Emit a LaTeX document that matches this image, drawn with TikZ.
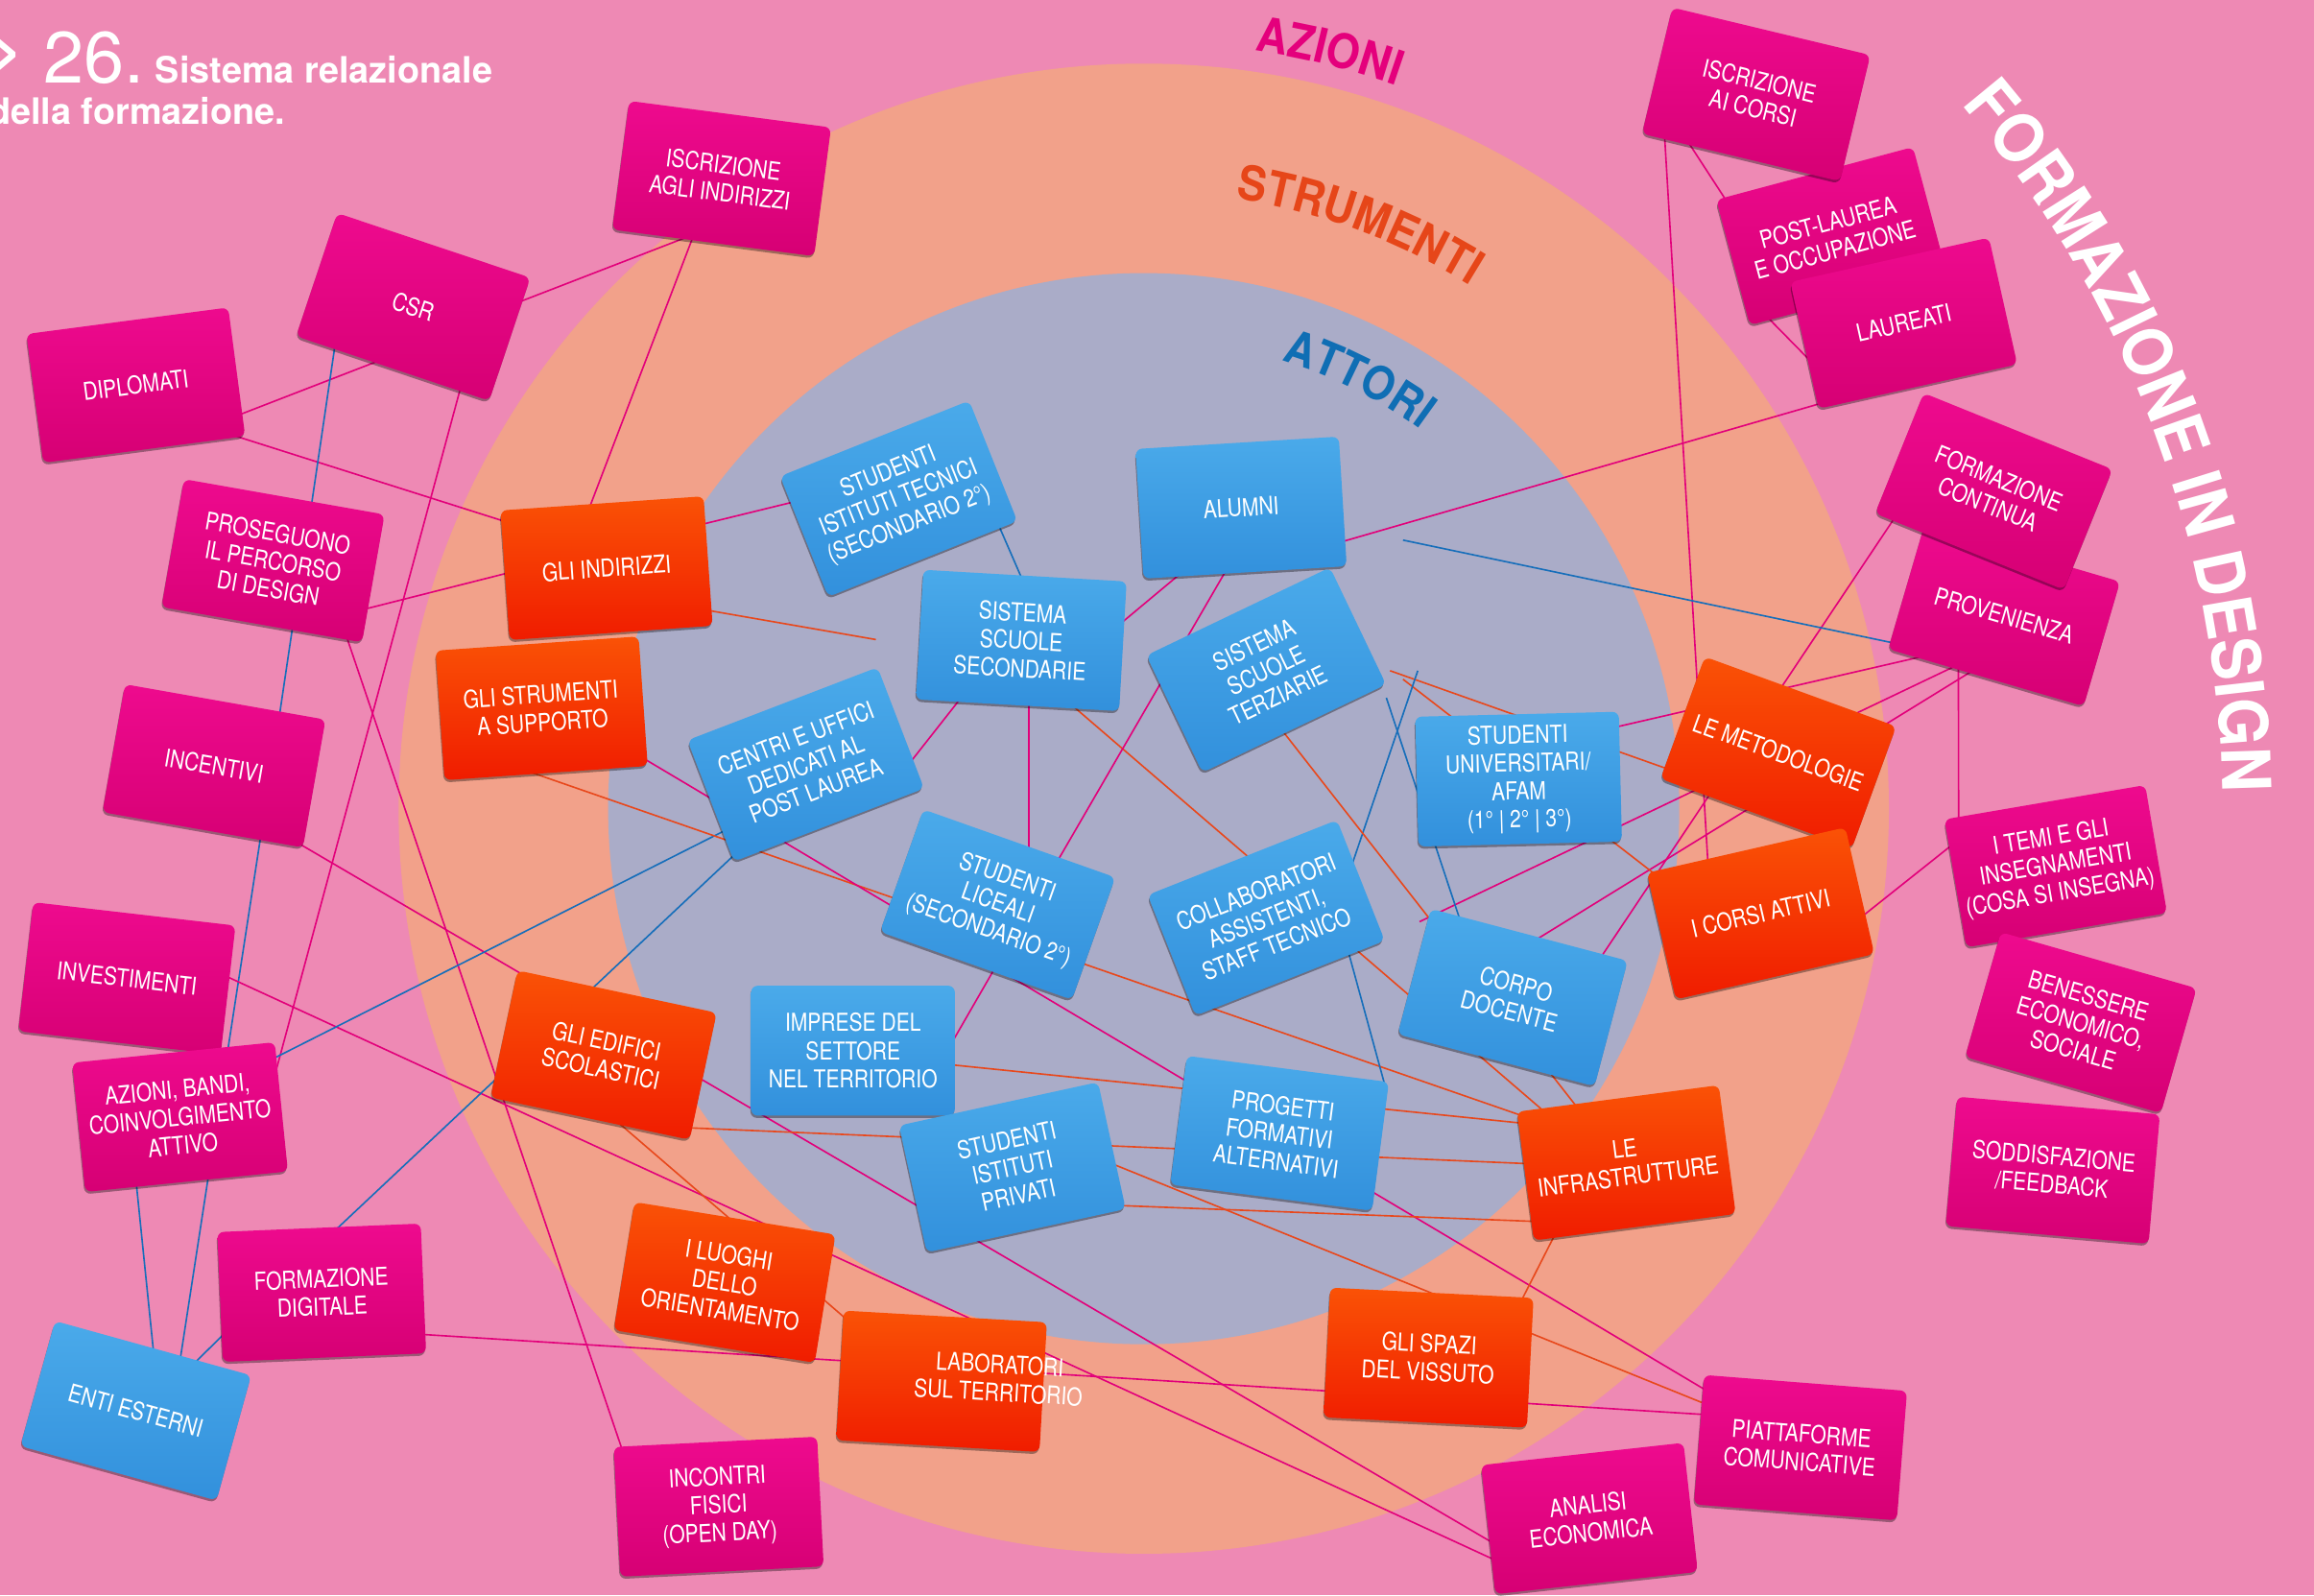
\documentclass[tikz,border=0pt]{standalone}
\usepackage{fontspec}
\setmainfont{TeX Gyre Heros}
\newfontfamily\boxfont[FakeStretch=0.82]{TeX Gyre Heros}
\newfontfamily\labfont[FakeStretch=0.9]{TeX Gyre Heros}
\newfontfamily\bigfont[FakeStretch=0.92]{TeX Gyre Heros}
\newfontfamily\ttlfont{TeX Gyre Heros}
\usetikzlibrary{calc,shadows,decorations.text}
\pgfdeclarelayer{bgl}\pgfdeclarelayer{lnl}\pgfsetlayers{bgl,lnl,main}
\definecolor{bgp}{RGB}{238,137,180}
\definecolor{ring}{RGB}{242,161,138}
\definecolor{lav}{RGB}{170,172,200}
\definecolor{magA}{RGB}{238,10,142}
\definecolor{magB}{RGB}{214,0,116}
\definecolor{orA}{RGB}{250,82,6}
\definecolor{orB}{RGB}{240,28,0}
\definecolor{blA}{RGB}{74,170,234}
\definecolor{blB}{RGB}{50,144,220}
\definecolor{lmag}{RGB}{226,0,122}
\definecolor{lor}{RGB}{232,72,28}
\definecolor{lblu}{RGB}{22,110,186}
\definecolor{tazi}{RGB}{228,0,124}
\definecolor{tstr}{RGB}{230,70,25}
\definecolor{tatt}{RGB}{15,110,180}
\tikzset{
 box/.style={rectangle, rounded corners=2.5pt, minimum width=2.76cm, minimum height=1.76cm, inner sep=1pt, align=center, text=white, font=\boxfont\fontsize{9.5}{10.8}\selectfont, drop shadow={shadow xshift=-0.3pt, shadow yshift=-0.9pt, opacity=0.35, fill=black}},
 mbox/.style={box, top color=magA, bottom color=magB},
 obox/.style={box, top color=orA, bottom color=orB},
 bbox/.style={box, top color=blA, bottom color=blB},
 lm/.style={draw=lmag, line width=0.6pt},
 lo/.style={draw=lor, line width=0.6pt},
 lb/.style={draw=lblu, line width=0.6pt},
 ttl/.style={anchor=base west, text=white, inner sep=0pt}
}
\newcommand\lnk[5]{\draw[#1] ($(#2)+(#3)$) -- ($(#4)+(#5)$);}
\begin{document}
\begin{tikzpicture}[x=0.02cm,y=-0.02cm]
\useasboundingbox (0,0) rectangle (1568,1081);
\begin{pgfonlayer}{bgl}
\clip (0,0) rectangle (1568,1081);
\fill[bgp] (0,0) rectangle (1568,1081);
\fill[ring] (775,548) circle[radius=10.1cm];
\fill[lav] (775,548) circle[radius=7.26cm];
\path[decorate,decoration={text along path,text align=center,text={|\labfont\bfseries\fontsize{18.5}{18.5}\selectfont\color{tazi}|AZIONI}}] plot[domain=-91.2:-61.2,samples=60] ({775+519*cos(\x)},{548+519*sin(\x)});
\path[decorate,decoration={text along path,text align=center,text={|\labfont\bfseries\fontsize{18.5}{18.5}\selectfont\color{tstr}|STRUMENTI}}] plot[domain=-94.7:-44.7,samples=60] ({775+418*cos(\x)},{548+418*sin(\x)});
\path[decorate,decoration={text along path,text align=center,text={|\labfont\bfseries\fontsize{18}{18}\selectfont\color{tatt}|ATTORI}}] plot[domain=-93.4:-33.4,samples=60] ({775+318*cos(\x)},{548+318*sin(\x)});
\path[decorate,decoration={text along path,text align=center,text={|\bigfont\bfseries\fontsize{26}{26}\selectfont\color{white}|FORMAZIONE IN DESIGN}}] plot[domain=-54.8:13.2,samples=120] ({775+731*cos(\x)},{548+731*sin(\x)});
\node[anchor=east, text=white, inner sep=0pt, font=\ttlfont\bfseries\fontsize{24}{24}\selectfont] (arr) at (16,37) {>};
\node[ttl, font=\ttlfont\fontsize{28}{28}\selectfont] (n26) at (29,56) {26.};
\node[ttl, font=\ttlfont\bfseries\fontsize{14}{14}\selectfont] (tt1) at (105,56) {Sistema relazionale};
\node[ttl, font=\ttlfont\bfseries\fontsize{14}{14}\selectfont] (tt2) at (-8,84) {della formazione.};
\end{pgfonlayer}

% AZIONI - left
\node[mbox, rotate=7.5] (dipl) at (92,261) {DIPLOMATI};
\node[mbox, rotate=-18.5] (csr) at (280,208) {CSR};
\node[mbox, rotate=-7.5] (isa) at (489,121) {ISCRIZIONE\\AGLI INDIRIZZI};
\node[mbox, rotate=-10] (pros) at (185,380) {PROSEGUONO\\IL PERCORSO\\DI DESIGN};
\node[mbox, rotate=-10] (ince) at (145,519) {INCENTIVI};
\node[mbox, rotate=-6.6] (inve) at (86,663) {INVESTIMENTI};
\node[mbox, rotate=5.8] (azb) at (122,757) {AZIONI, BANDI,\\COINVOLGIMENTO\\ATTIVO};
\node[mbox, rotate=2.4] (fdig) at (218,876) {FORMAZIONE\\DIGITALE};
\node[mbox, rotate=2.9] (inco) at (487,1021) {INCONTRI\\FISICI\\(OPEN DAY)};
\node[bbox, rotate=-15.5] (enti) at (92,956) {ENTI ESTERNI};
% AZIONI - right
\node[mbox, rotate=15] (post) at (1241,160) {POST-LAUREA\\E OCCUPAZIONE};
\node[mbox, rotate=-13.5] (isc) at (1190,64) {ISCRIZIONE\\AI CORSI};
\node[mbox, rotate=12.6] (laur) at (1290,219) {LAUREATI};
\node[mbox, rotate=-16.3] (prov) at (1358,417) {PROVENIENZA};
\node[mbox, rotate=-22] (fcon) at (1351,333) {FORMAZIONE\\CONTINUA};
\node[mbox, rotate=9.7] (temi) at (1393,587) {I TEMI E GLI\\INSEGNAMENTI\\(COSA SI INSEGNA)};
\node[mbox, rotate=-16] (bene) at (1410,693) {BENESSERE\\ECONOMICO,\\SOCIALE};
\node[mbox, rotate=-5] (sodd) at (1391,793) {SODDISFAZIONE\\/FEEDBACK};
\node[mbox, rotate=6.3] (anal) at (1077,1029) {ANALISI\\ECONOMICA};
\node[mbox, rotate=-4.5] (piat) at (1220,981) {PIATTAFORME\\COMUNICATIVE};
% STRUMENTI
\node[obox, rotate=4] (gind) at (411,385) {GLI INDIRIZZI};
\node[obox, rotate=4] (gstr) at (367,480) {GLI STRUMENTI\\A SUPPORTO};
\node[obox, rotate=-12] (gedi) at (409,715) {GLI EDIFICI\\SCOLASTICI};
\node[obox, rotate=-9.2] (luog) at (491,869) {I LUOGHI\\DELLO\\ORIENTAMENTO};
\node[obox, rotate=-3.3] (labo) at (638,936) {};
\node[rotate=-3.3, text=white, align=center, inner sep=0pt, font=\boxfont\fontsize{9.5}{10.8}\selectfont] (labot) at (677,934) {LABORATORI\\SUL TERRITORIO};
\node[obox, rotate=-2.9] (spaz) at (968,920) {GLI SPAZI\\DEL VISSUTO};
\node[obox, rotate=7.5] (infr) at (1102,788) {LE\\INFRASTRUTTURE};
\node[obox, rotate=-20] (meto) at (1205,510) {LE METODOLOGIE};
\node[obox, rotate=12.9] (cors) at (1193,619) {I CORSI ATTIVI};
% ATTORI
\node[bbox, rotate=21.8] (tecn) at (609,338) {STUDENTI\\ISTITUTI TECNICI\\(SECONDARIO 2°)};
\node[bbox, rotate=3.5] (alum) at (841,344) {ALUMNI};
\node[bbox, rotate=-3.3] (ssec) at (692,434) {SISTEMA\\SCUOLE\\SECONDARIE};
\node[bbox, rotate=25.6] (ster) at (858,454) {SISTEMA\\SCUOLE\\TERZIARIE};
\node[bbox, rotate=21] (cent) at (546,518) {CENTRI E UFFICI\\DEDICATI AL\\POST LAUREA};
\node[bbox, rotate=-19.5] (lice) at (676,613) {STUDENTI\\LICEALI\\(SECONDARIO 2°)};
\node[bbox] (impr) at (578,712) {IMPRESE DEL\\SETTORE\\NEL TERRITORIO};
\node[bbox, rotate=12.3] (priv) at (686,791) {STUDENTI\\ISTITUTI\\PRIVATI};
\node[bbox, rotate=21.6] (coll) at (858,622) {COLLABORATORI\\ASSISTENTI,\\STAFF TECNICO};
\node[bbox, rotate=1.4] (univ) at (1029,528) {STUDENTI\\UNIVERSITARI/\\AFAM\\(1° | 2° | 3°)};
\node[bbox, rotate=-14.8] (corp) at (1025,676) {CORPO\\DOCENTE};
\node[bbox, rotate=-7.4] (prog) at (867,768) {PROGETTI\\FORMATIVI\\ALTERNATIVI};

\coordinate (f1) at (593.5,433.4);
\coordinate (f2) at (961.9,624.6);
\coordinate (f3) at (950.7,366);
\coordinate (f4) at (941.9,454.5);
\coordinate (f5) at (950.7,460.3);
\coordinate (f6) at (960.7,454.5);
\coordinate (f7) at (939.4,472.9);

\begin{pgfonlayer}{lnl}
\lnk{lm}{csr}{61,0.8}{isa}{-13,35.6}
\lnk{lm}{isa}{-15.1,28.2}{gind}{-15.4,-31}
\lnk{lm}{dipl}{59,24.4}{csr}{-13.3,32.6}
\lnk{lm}{dipl}{56.3,30.9}{gind}{-56.5,-27.7}
\lnk{lm}{csr}{35.3,42.9}{azb}{64.2,-28.3}
\lnk{lb}{csr}{-51.4,15.1}{pros}{24.2,-25.2}
\lnk{lm}{pros}{50.6,35.7}{gind}{-55.1,0.3}
\lnk{lb}{pros}{14.8,34.5}{ince}{42.9,-24.4}
\lnk{lm}{pros}{46.6,41.9}{inco}{-61.3,-26.5}
\lnk{lm}{ince}{44.7,45.1}{anal}{-55.9,22.1}
\lnk{lb}{ince}{33.7,34.5}{enti}{28.3,-23}
\lnk{lm}{inve}{58,-5.7}{anal}{-55.2,32.2}
\lnk{lb}{azb}{56,-36}{cent}{-45.3,40}
\lnk{lb}{azb}{-30.9,32.6}{enti}{13.3,-27.5}
\lnk{lb}{fdig}{-57.2,19.1}{enti}{31.1,-23.8}
\lnk{lb}{fdig}{0,-33.7}{cent}{-41.6,54.9}
\lnk{lm}{fdig}{57.2,27.6}{piat}{-53,-21.7}
\lnk{lm}{gind}{55.4,-27.4}{tecn}{-60.9,-0.4}
\draw[lo] ($(gind)+(57.7,26.7)$) -- (f1);
\lnk{lo}{gstr}{-21,38.6}{infr}{-59.6,-28.1}
\lnk{lm}{gstr}{58.6,27.7}{piat}{-52.6,-32.1}
\lnk{lo}{gedi}{8.1,44.1}{labo}{-55.6,-34.4}
\lnk{lo}{gedi}{42,48.6}{infr}{-56.3,1}
\lnk{lo}{priv}{61.4,25.5}{infr}{-51.3,40.1}
\lnk{lo}{impr}{54.4,8.3}{infr}{-58.9,-25.7}
\lnk{lo}{priv}{56.2,-7}{piat}{-52.8,-24.9}
\lnk{lm}{alum}{57.6,26.2}{laur}{-46,51.4}
\lnk{lm}{isc}{-62.7,17.5}{cors}{-35.1,-24.2}
\lnk{lm}{isc}{-51.2,24.4}{post}{-63.3,-11.8}
\lnk{lm}{post}{-50.6,47.6}{laur}{-54.9,34.1}
\lnk{lm}{fcon}{-59.3,6.1}{corp}{53.7,-18.2}
\lnk{lm}{prov}{-52.5,27.2}{univ}{57.2,-33.3}
\draw[lm] ($(prov)+(-26.1,31)$) -- (f2);
\lnk{lm}{prov}{-14.2,33.1}{corp}{7.9,-34.3}
\lnk{lm}{prov}{-31,23}{temi}{-65.8,-18.7}
\draw[lb] (f3) -- ($(prov)+(-63.6,21.1)$);
\lnk{lm}{cors}{59.9,9.1}{temi}{-60.4,-22.3}
\draw[lo] (f4) -- ($(meto)+(-63.9,15)$);
\draw[lo] (f5) -- ($(cors)+(-64.1,-20.8)$);
\draw[lb] (f6) -- ($(coll)+(55.4,-28)$);
\draw[lb] (f7) -- ($(corp)+(-32.1,-41.8)$);
\lnk{lo}{ster}{5.9,34.7}{infr}{-25.8,-28}
\lnk{lo}{ssec}{25.2,36}{infr}{-47.4,-27.7}
\lnk{lb}{coll}{54.9,20.2}{prog}{72.5,-28.6}
\lnk{lm}{ssec}{60.2,-5.5}{alum}{-31.4,36.6}
\lnk{lm}{lice}{33.9,-18}{alum}{-4.1,32}
\lnk{lb}{tecn}{63.6,8.5}{ssec}{5.1,-31.2}
\lnk{lm}{ssec}{-34.2,30.5}{cent}{63.3,8.1}
\lnk{lm}{ssec}{5.3,29.7}{lice}{21.3,-22.8}
\lnk{lm}{lice}{2.5,35.4}{impr}{63,1.5}
\lnk{lo}{infr}{-43.3,38.6}{spaz}{57.2,-27.4}
\end{pgfonlayer}
\end{tikzpicture}
\end{document}
